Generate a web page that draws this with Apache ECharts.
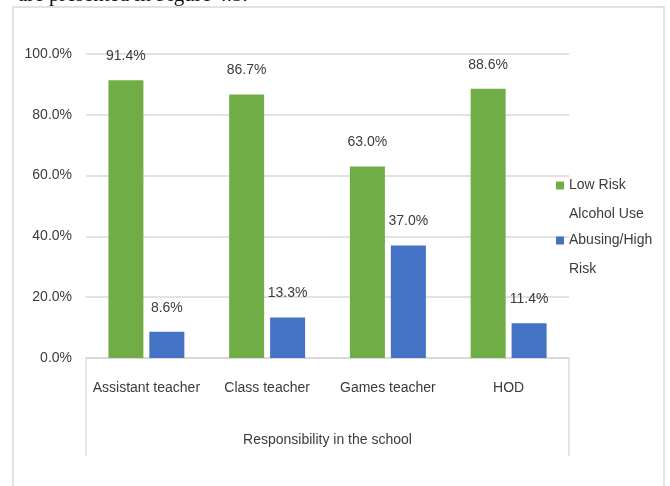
<!DOCTYPE html>
<html>
<head>
<meta charset="utf-8">
<script src="https://cdn.jsdelivr.net/npm/echarts@6/dist/echarts.min.js"></script>
<style>
html,body{margin:0;padding:0;background:#fff;}
#main{width:670px;height:486px;}
</style>
</head>
<body>
<div id="main"></div>
<script>
var categories = ['Assistant teacher', 'Class teacher', 'Games teacher', 'HOD'];
var lowRisk = [91.4, 86.7, 63.0, 88.6];
var highRisk = [8.6, 13.3, 37.0, 11.4];
var seriesNames = ['Low Risk Alcohol Use', 'Abusing/High Risk'];
var yTicks = [0, 20, 40, 60, 80, 100];
var xTitle = 'Responsibility in the school';

var FONT = '"Liberation Sans Narrow", "Liberation Sans", Arial, sans-serif';
var TXT = '#3b3b3b';
var FS = 14;
var G = {left: 86, right: 101, top: 54, bottom: 128};

var chart = echarts.init(document.getElementById('main'), null, {renderer: 'canvas'});

function pct(v) { return v.toFixed(1) + '%'; }

var labelCfg = {
  show: true, position: 'top', distance: 17,
  fontFamily: FONT, fontSize: FS, color: TXT,
  formatter: function (p) { return pct(p.value); }
};

function legendText(name) {
  return name === seriesNames[0] ? '\u00a0\nLow Risk\nAlcohol Use' : '\u00a0\nAbusing/High\nRisk';
}

var legendBase = {
  orient: 'vertical', left: 556, padding: 0, itemWidth: 8, itemHeight: 8, itemGap: 0,
  icon: 'rect',
  formatter: legendText,
  textStyle: {fontFamily: FONT, fontSize: FS, color: TXT, lineHeight: 29}
};

chart.setOption({
  animation: false,
  textStyle: {fontFamily: FONT},
  grid: G,
  legend: [
    Object.assign({}, legendBase, {top: 142, data: [seriesNames[0]]}),
    Object.assign({}, legendBase, {top: 197, data: [seriesNames[1]]})
  ],
  xAxis: {
    type: 'category', data: categories,
    axisLine: {show: true, lineStyle: {color: '#d6d6d6', width: 1.5}},
    axisTick: {show: false},
    axisLabel: {fontFamily: FONT, fontSize: FS, color: TXT, margin: 23, interval: 0},
    name: xTitle, nameLocation: 'middle', nameGap: 75,
    nameTextStyle: {fontFamily: FONT, fontSize: FS, color: TXT}
  },
  yAxis: {
    type: 'value', min: yTicks[0], max: yTicks[yTicks.length - 1], interval: 20,
    axisLine: {show: false}, axisTick: {show: false},
    axisLabel: {fontFamily: FONT, fontSize: FS, color: TXT, margin: 14,
      formatter: function (v) { return pct(v); }},
    splitLine: {lineStyle: {color: '#d9d9d9', width: 1.5}}
  },
  series: [
    {name: seriesNames[0], type: 'bar', data: lowRisk, barWidth: 35, barGap: '17%',
      itemStyle: {color: '#70ad47'}, label: labelCfg},
    {name: seriesNames[1], type: 'bar', data: highRisk, barWidth: 35,
      itemStyle: {color: '#4472c4'}, label: labelCfg}
  ],
  graphic: [
    {type: 'rect', silent: true, z: -1,
      shape: {x: 13, y: 7, width: 651, height: 500},
      style: {fill: 'none', stroke: '#d9d9d9', lineWidth: 1.5}},
    {type: 'polyline', silent: true,
      shape: {points: [[G.left, 358], [G.left, 456]]},
      style: {stroke: '#dcdcdc', lineWidth: 1.5, fill: 'none'}},
    {type: 'polyline', silent: true,
      shape: {points: [[670 - G.right, 358], [670 - G.right, 456]]},
      style: {stroke: '#dcdcdc', lineWidth: 1.5, fill: 'none'}},
    {type: 'text', silent: true, left: 18, top: -15,
      style: {text: 'are presented in Figure 4.5.', fontFamily: '"Liberation Serif", serif',
        fontSize: 21, fill: '#111'}}
  ]
});
</script>
</body>
</html>
